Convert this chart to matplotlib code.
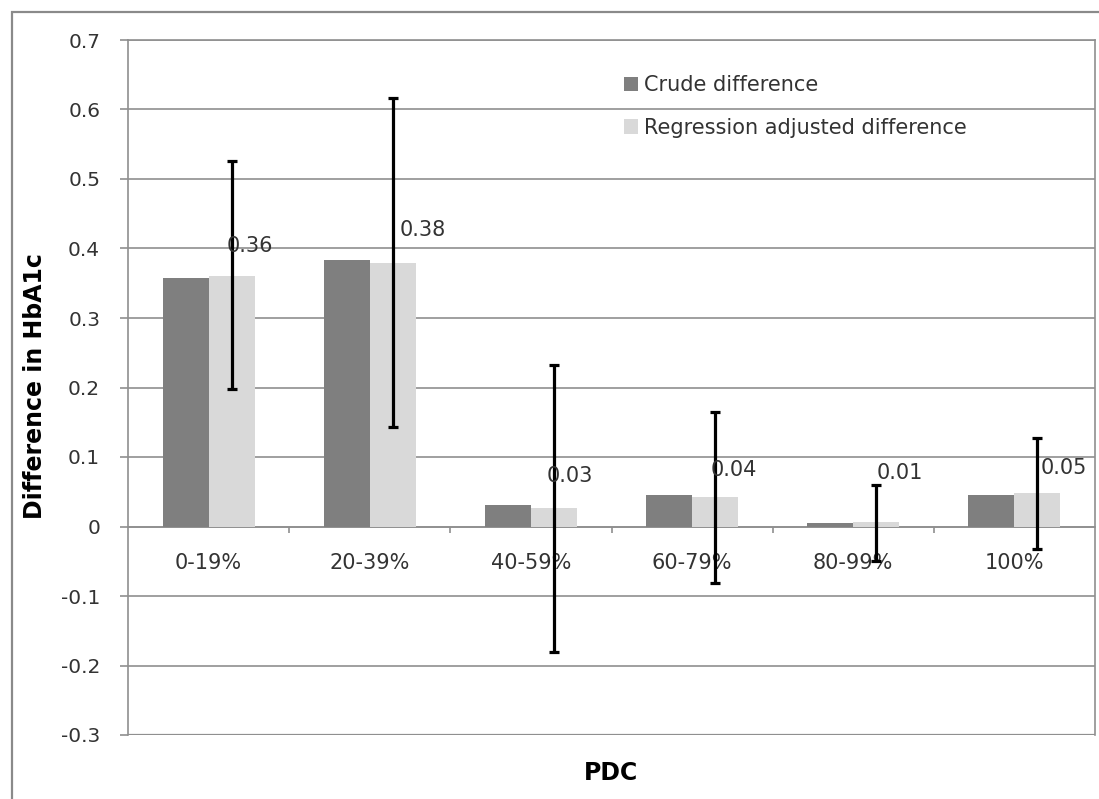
import numpy as np
import matplotlib
matplotlib.use("Agg")
import matplotlib.pyplot as plt
from matplotlib.patches import Rectangle

# ---- data ----
categories = ["0-19%", "20-39%", "40-59%", "60-79%", "80-99%", "100%"]
crude = [0.358, 0.384, 0.031, 0.045, 0.005, 0.045]
adjusted = [0.361, 0.379, 0.026, 0.042, 0.006, 0.048]
ci_low = [0.198, 0.143, -0.181, -0.081, -0.049, -0.033]
ci_high = [0.526, 0.617, 0.232, 0.165, 0.059, 0.128]
yticks = [-0.3, -0.2, -0.1, 0, 0.1, 0.2, 0.3, 0.4, 0.5, 0.6, 0.7]
ytick_labels = ["-0.3", "-0.2", "-0.1", "0", "0.1", "0.2", "0.3", "0.4", "0.5", "0.6", "0.7"]
series_names = ["Crude difference", "Regression adjusted difference"]

# ---- style / placement ----
W, H = 1099, 799
DPI = 100
dark = "#7f7f7f"
light = "#d9d9d9"
grid_c = "#8f8f8f"
text_c = "#333333"
bar_w = 0.285
label_dx = [-0.03, 0.045, -0.045, -0.03, 0.0, 0.02]
label_dy = [0.043, 0.047, 0.047, 0.039, 0.071, 0.036]

fig = plt.figure(figsize=(W / DPI, H / DPI), dpi=DPI)
fig.patch.set_facecolor("white")
left, right, top, bottom = 128, 1095, 40, 735
ax = fig.add_axes([left / W, (H - bottom) / H, (right - left) / W, (bottom - top) / H])

x = np.arange(len(categories))
ax.bar(x - bar_w / 2, crude, width=bar_w, color=dark, zorder=3, label=series_names[0])
ax.bar(x + bar_w / 2, adjusted, width=bar_w, color=light, zorder=3, label=series_names[1])

adj = np.array(adjusted)
yerr = np.vstack([adj - np.array(ci_low), np.array(ci_high) - adj])
ax.errorbar(x + bar_w / 2, adj, yerr=yerr, fmt="none", ecolor="black",
            elinewidth=2.3, capsize=3.6, capthick=2.3, zorder=5)

for i, v in enumerate(adjusted):
    ax.text(x[i] + bar_w / 2 + label_dx[i], v + label_dy[i], f"{v:.2f}",
            ha="left", va="center", fontsize=15, color=text_c, zorder=6)

ax.set_xlim(-0.5, len(categories) - 0.5)
ax.set_ylim(-0.3, 0.7)
ax.set_yticks(yticks)
ax.set_yticklabels(ytick_labels, fontsize=14.5, color=text_c)
ax.yaxis.grid(True, color=grid_c, linewidth=1.2, zorder=0)
ax.set_axisbelow(True)
ax.tick_params(axis="y", direction="out", length=6, width=1.2, color=grid_c, pad=14)

# category axis crossing at zero
ax.spines["bottom"].set_position(("data", 0))
ax.spines["bottom"].set_color(grid_c)
ax.spines["bottom"].set_linewidth(1.2)
ax.set_xticks(x)
ax.set_xticklabels(categories, fontsize=15, color=text_c)
ax.set_xticks(np.arange(0.5, len(categories) - 0.5, 1.0), minor=True)
ax.tick_params(axis="x", which="major", length=0, pad=19)
ax.tick_params(axis="x", which="minor", direction="out", length=4, width=1.2, color=grid_c)

for s in ["left", "right", "top"]:
    ax.spines[s].set_color(grid_c)
    ax.spines[s].set_linewidth(1.2)
# bottom border of the plot area at -0.3
ax.axhline(-0.3, color=grid_c, linewidth=1.6, zorder=1)

# legend
leg = ax.legend(loc="upper left", bbox_to_anchor=(624 / W, 1 - 75 / H),
                bbox_transform=fig.transFigure, frameon=False, fontsize=15,
                handlelength=0.68, handleheight=0.68, handletextpad=0.3,
                labelspacing=1.1, borderpad=0, borderaxespad=0)
for t in leg.get_texts():
    t.set_color(text_c)

# axis titles
fig.text(35 / W, 1 - 386 / H, "Difference in HbA1c", rotation=90, ha="center", va="center",
         fontsize=17, fontweight="bold", color="black")
fig.text(611 / W, 1 - 773 / H, "PDC", ha="center", va="center",
         fontsize=17, fontweight="bold", color="black")

# outer chart frame (left and top visible)
fig.patches.append(Rectangle((12 / W, -0.05), 1.2, 1 - 12 / H + 0.05, transform=fig.transFigure,
                             fill=False, edgecolor="#8a8a8a", linewidth=1.6))

fig.savefig("out.png", dpi=DPI)
